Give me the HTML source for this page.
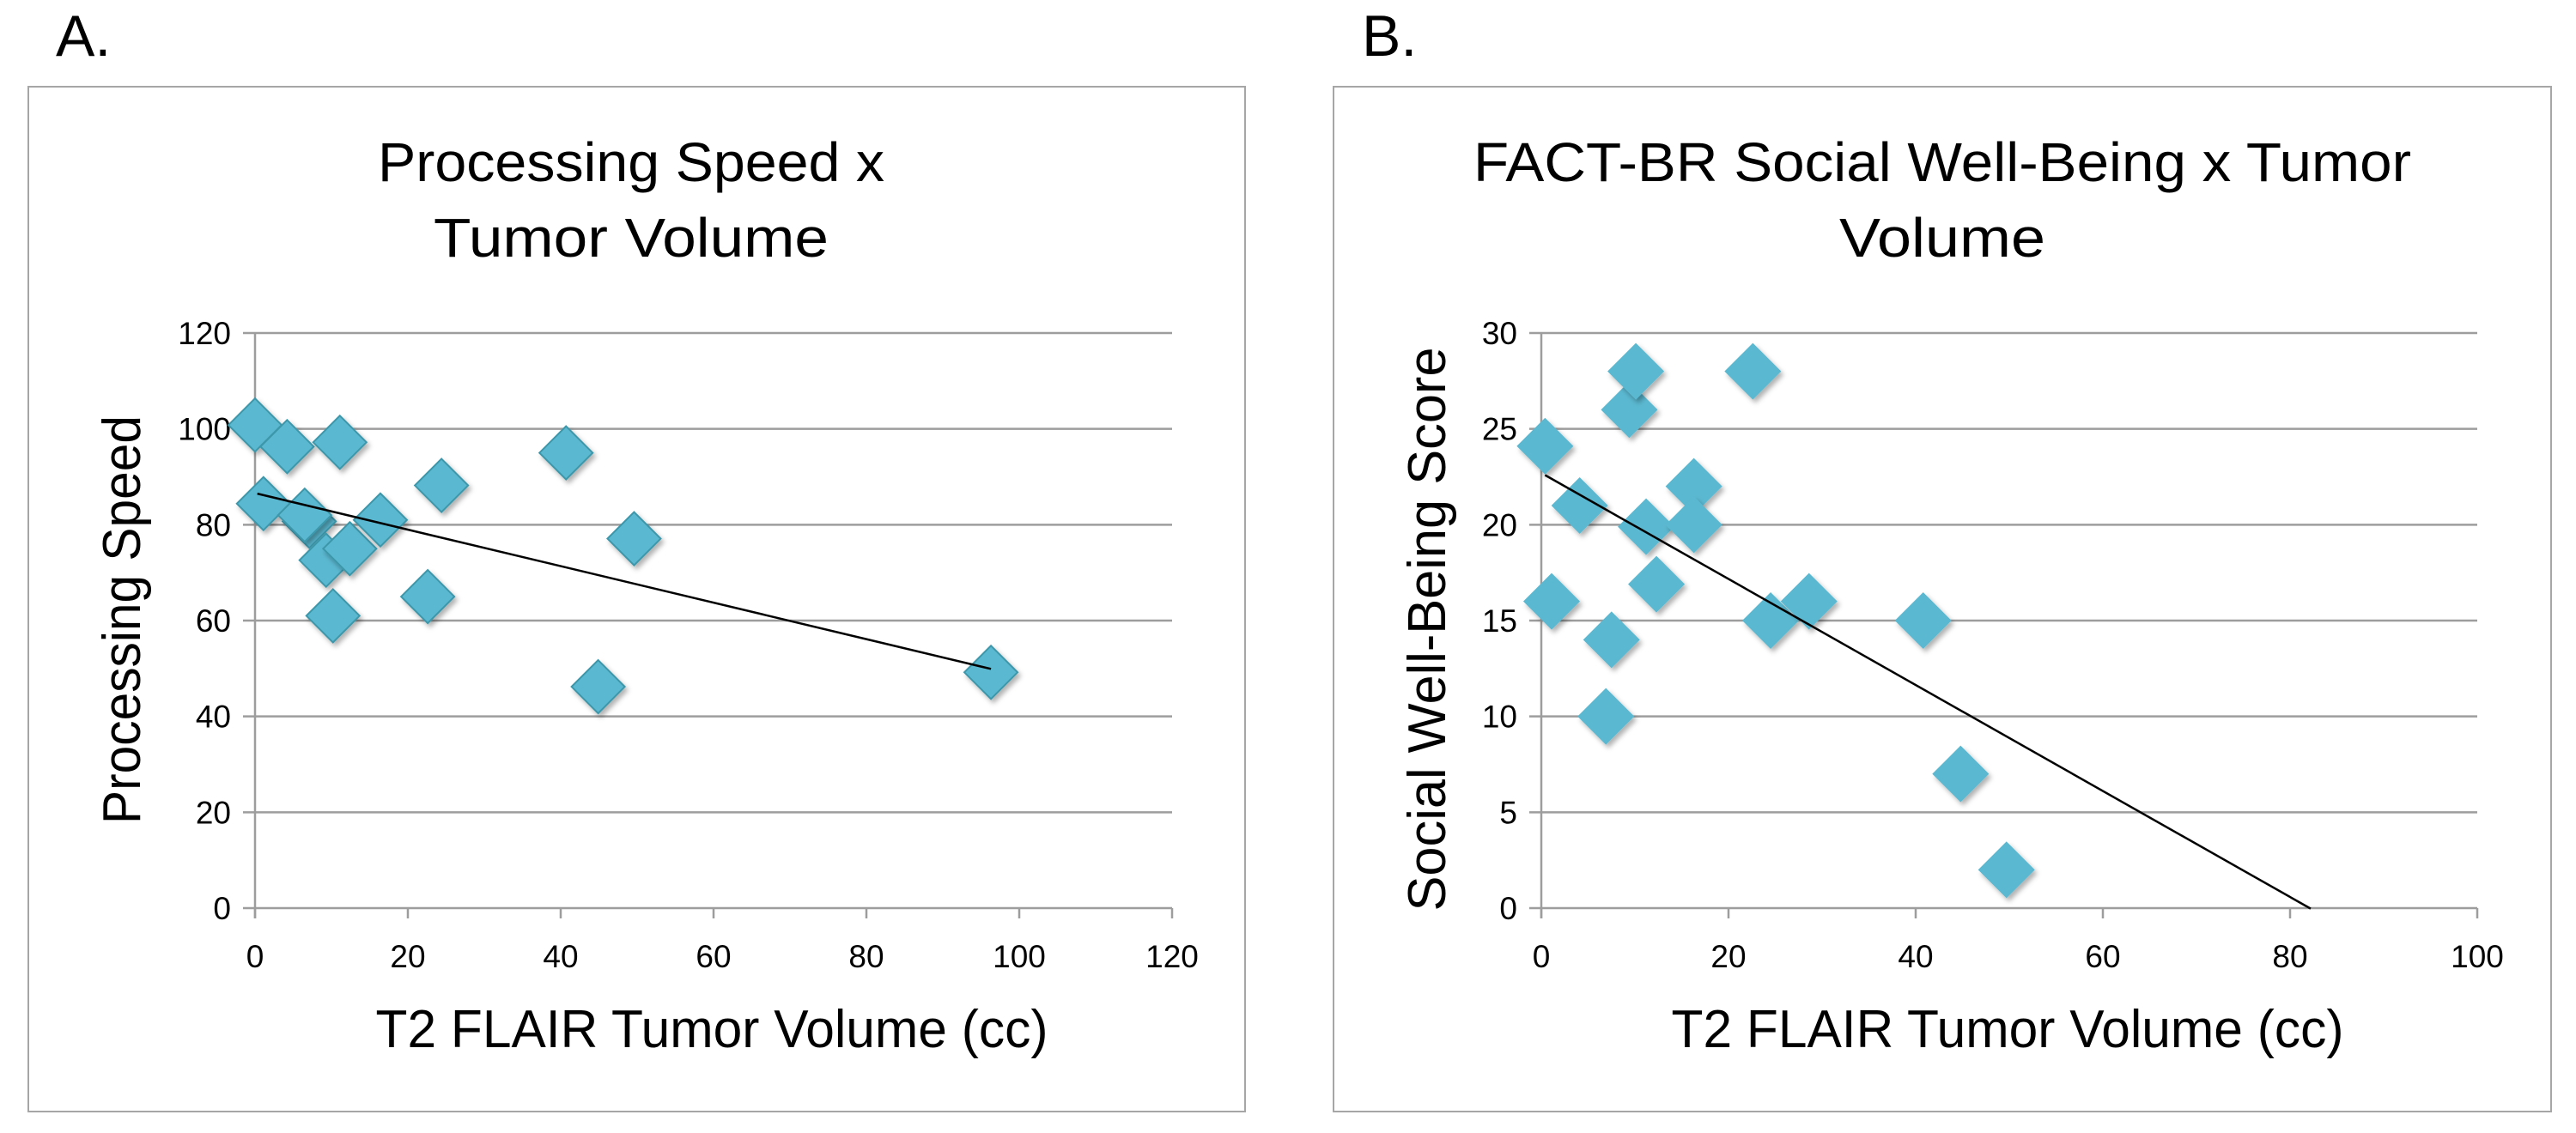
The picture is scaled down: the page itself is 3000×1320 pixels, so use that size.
<!DOCTYPE html>
<html><head><meta charset="utf-8"><style>
html,body{margin:0;padding:0;background:#fff;}
svg{display:block;font-family:"Liberation Sans",sans-serif;}
</style></head><body>
<svg id="fig" width="3000" height="1320" viewBox="0 0 3000 1320" xmlns="http://www.w3.org/2000/svg">
<defs>
<filter id="sh" x="-30%" y="-30%" width="160%" height="160%">
<feDropShadow dx="3" dy="4" stdDeviation="3" flood-color="#000" flood-opacity="0.3"/>
</filter>
</defs>
<text x="65" y="65" font-size="68">A.</text>
<text x="1586" y="65" font-size="68">B.</text>
<rect x="33" y="101" width="1417" height="1194" fill="#fff" stroke="#a6a6a6" stroke-width="2"/>
<rect x="1553" y="101" width="1418" height="1194" fill="#fff" stroke="#a6a6a6" stroke-width="2"/>
<g id="chartA"></g>
<g id="chartB"></g>
</svg>
<script>
// Chart A data
const aX = [0, 4.2, 11.1, 1.1, 7.1, 6.5, 9.3, 12.4, 16.4, 10.2, 24.4, 22.6, 40.7, 49.6, 44.9, 96.3];
const aY = [100.8, 96.3, 97.2, 84.4, 80.7, 82, 72.6, 75, 81, 61, 88.2, 65, 95, 77.1, 46.2, 49.2];
const aXTicks = [0, 20, 40, 60, 80, 100, 120];
const aYTicks = [0, 20, 40, 60, 80, 100, 120];
const aTrend = [86.6, -0.381];
const aTrendRange = [0.3, 96.3];
// Chart B data
const bX = [0.4, 4.1, 1.1, 7.5, 6.9, 9.4, 10.1, 11.2, 12.3, 16.3, 16.3, 22.6, 24.5, 28.6, 40.8, 44.8, 49.7];
const bY = [24.1, 21, 16, 14, 10, 26, 28, 19.9, 16.9, 22, 20, 28, 15, 16, 15, 7, 2];
const bXTicks = [0, 20, 40, 60, 80, 100];
const bYTicks = [0, 5, 10, 15, 20, 25, 30];
const bTrend = [22.7, -0.2765];
const bTrendRange = [0.4, 82.2];

const NS = "http://www.w3.org/2000/svg";
function mk(parent, tag, attrs, text) {
  const e = document.createElementNS(NS, tag);
  for (const k in attrs) e.setAttribute(k, attrs[k]);
  if (text !== undefined) e.textContent = text;
  parent.appendChild(e);
  return e;
}
function draw(cfg) {
  const g = document.getElementById(cfg.id);
  const sx = v => cfg.x0 + (v - cfg.xmin) / (cfg.xmax - cfg.xmin) * (cfg.x1 - cfg.x0);
  const sy = v => cfg.y0 - (v - cfg.ymin) / (cfg.ymax - cfg.ymin) * (cfg.y0 - cfg.y1);
  // gridlines and y ticks
  cfg.yTicks.forEach(t => {
    const y = sy(t);
    const l = mk(g, "line", {x1: cfg.x0 - 14, x2: cfg.x1, y1: y, y2: y, stroke: "#9d9d9d", "stroke-width": 2.5});
    
    
    const tx = mk(g, "text", {x: cfg.x0 - 28, y: y + 13, "font-size": 37, "text-anchor": "end"}, String(t));
    
    
  });
  const ya = mk(g, "line", {x1: cfg.x0, x2: cfg.x0, y1: cfg.y1, y2: cfg.y0 + 12, stroke: "#9d9d9d", "stroke-width": 2.5});
  
  
  cfg.xTicks.forEach(t => {
    const x = sx(t);
    const l = mk(g, "line", {x1: x, x2: x, y1: cfg.y0, y2: cfg.y0 + 12, stroke: "#9d9d9d", "stroke-width": 2.5});
    
    
    const tx = mk(g, "text", {x: x, y: 1127, "font-size": 37, "text-anchor": "middle"}, String(t));
    
    
  });
  // points
  cfg.xs.forEach((v, i) => {
    const cx = sx(v), cy = sy(cfg.ys[i]), r = cfg.r;
    const p = mk(g, "polygon", {points: `${cx},${cy - r} ${cx + r},${cy} ${cx},${cy + r} ${cx - r},${cy}`, fill: "#5ab8d0", stroke: cfg.stroke, "stroke-width": 2, filter: "url(#sh)"});
    
    
  });
  // trendline
  const [a, b] = cfg.trend, [t0, t1] = cfg.range;
  const tl = mk(g, "line", {x1: sx(t0), y1: sy(a + b * t0), x2: sx(t1), y2: sy(a + b * t1), stroke: "#000", "stroke-width": 2.5});
  
  
  // titles
  cfg.title.forEach((s, i) => {
    const t = mk(g, "text", {x: cfg.tcx, y: 211 + i * 88, "font-size": 64, "text-anchor": "middle", textLength: cfg.tw[i], lengthAdjust: "spacingAndGlyphs"}, s);
    
    
  });
  const xt = mk(g, "text", {x: cfg.xcx, y: 1220, "font-size": 62, "text-anchor": "middle", textLength: 783, lengthAdjust: "spacingAndGlyphs"}, "T2 FLAIR Tumor Volume (cc)");
  
  
  const yt = mk(g, "text", {x: 0, y: 0, "font-size": 62, "text-anchor": "middle", textLength: cfg.yw, lengthAdjust: "spacingAndGlyphs", transform: `translate(${cfg.ytx},${cfg.ycy}) rotate(-90)`}, cfg.ytitle);
  
  
}
draw({id: "chartA", x0: 297, x1: 1365, y0: 1058, y1: 388, xmin: 0, xmax: 120, ymin: 0, ymax: 120,
  xTicks: aXTicks, yTicks: aYTicks, xs: aX, ys: aY, trend: aTrend, range: aTrendRange, r: 31, stroke: "#3d97aa",
  title: ["Processing Speed x", "Tumor Volume"], tcx: 735, tw: [590, 460], xcx: 829,
  ytitle: "Processing Speed", ytx: 163, ycy: 722, yw: 476});
draw({id: "chartB", x0: 1795, x1: 2885, y0: 1058, y1: 388, xmin: 0, xmax: 100, ymin: 0, ymax: 30,
  xTicks: bXTicks, yTicks: bYTicks, xs: bX, ys: bY, trend: bTrend, range: bTrendRange, r: 33, stroke: "none",
  title: ["FACT-BR Social Well-Being x Tumor", "Volume"], tcx: 2262, tw: [1092, 240], xcx: 2338,
  ytitle: "Social Well-Being  Score", ytx: 1683, ycy: 733, yw: 657});
</script>
</body></html>
